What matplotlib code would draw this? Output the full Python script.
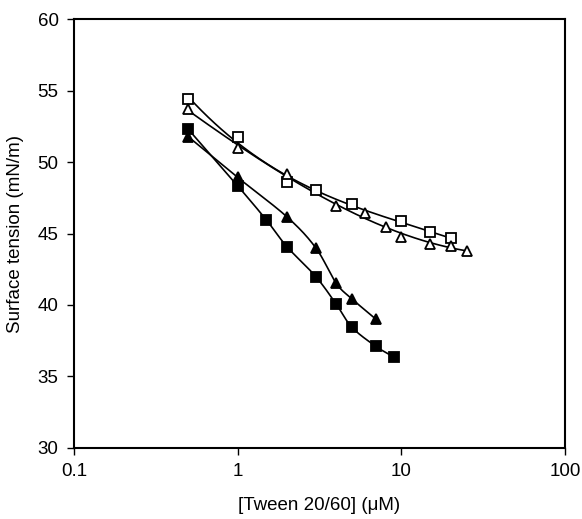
import numpy as np
import matplotlib
matplotlib.use("Agg")
import matplotlib.pyplot as plt

plt.rcParams['font.family'] = ['Liberation Sans', 'DejaVu Sans']

# open squares
sq_open_x = [0.5, 1, 2, 3, 5, 10, 15, 20]
sq_open_y = [54.45, 51.73, 48.62, 48.04, 47.06, 45.89, 45.08, 44.66]
# open triangles
tri_open_x = [0.5, 1, 2, 4, 6, 8, 10, 15, 20, 25]
tri_open_y = [53.69, 50.96, 49.16, 46.94, 46.41, 45.43, 44.73, 44.24, 44.15, 43.80]
# filled squares
sq_fill_x = [0.5, 1, 1.5, 2, 3, 4, 5, 7, 9]
sq_fill_y = [52.29, 48.34, 45.94, 44.08, 41.99, 40.06, 38.43, 37.10, 36.36]
# filled triangles
tri_fill_x = [0.5, 1, 2, 3, 4, 5, 7]
tri_fill_y = [51.77, 48.93, 46.17, 44.0, 41.52, 40.42, 39.0]


def smooth(xs, ys, n=30):
    # catmull-rom through the points, done in log-x space
    lx = np.log10(xs)
    y = np.asarray(ys, float)
    px = np.concatenate([[2*lx[0]-lx[1]], lx, [2*lx[-1]-lx[-2]]])
    py = np.concatenate([[2*y[0]-y[1]], y, [2*y[-1]-y[-2]]])
    outx, outy = [], []
    t = np.linspace(0, 1, n)
    for i in range(1, len(px)-2):
        for arr, out in ((px, outx), (py, outy)):
            p0, p1, p2, p3 = arr[i-1], arr[i], arr[i+1], arr[i+2]
            out.extend(0.5*((2*p1) + (-p0+p2)*t + (2*p0-5*p1+4*p2-p3)*t**2
                            + (-p0+3*p1-3*p2+p3)*t**3))
    return 10**np.array(outx), np.array(outy)


def trend(xs, ys, deg=3):
    # polynomial trend line in log-x
    lx = np.log10(xs)
    c = np.polyfit(lx, ys, deg)
    gx = np.linspace(lx[0], lx[-1], 200)
    return 10**gx, np.polyval(c, gx)


fig = plt.figure(figsize=(5.82, 5.19), dpi=100)
ax = fig.add_axes([0.127, 0.137, 0.844, 0.826])

series = [
    (sq_open_x, sq_open_y, 's', 'white', trend),
    (tri_open_x, tri_open_y, '^', 'white', trend),
    (sq_fill_x, sq_fill_y, 's', 'black', smooth),
    (tri_fill_x, tri_fill_y, '^', 'black', smooth),
]
for xs, ys, m, fc, curve in series:
    cx, cy = curve(xs, ys)
    ax.plot(cx, cy, color='black', lw=1.2, zorder=2)
    ax.plot(xs, ys, linestyle='none', marker=m, ms=7.5, mfc=fc,
            mec='black', mew=1.3, zorder=3)

ax.set_xscale('log')
ax.set_xlim(0.1, 100)
ax.set_ylim(30, 60)
ax.set_xticks([0.1, 1, 10, 100])
ax.set_xticklabels(['0.1', '1', '10', '100'])
ax.xaxis.set_minor_locator(matplotlib.ticker.NullLocator())
ax.set_yticks(range(30, 61, 5))
for s in ax.spines.values():
    s.set_linewidth(1.5)
ax.tick_params(direction='out', length=5, width=1, labelsize=13.5, pad=6)
ax.set_xlabel('[Tween 20/60] (\u03bcM)', fontsize=13.5, labelpad=12)
ax.set_ylabel('Surface tension (mN/m)', fontsize=13.5, labelpad=10)

fig.savefig('out.png', dpi=100)
